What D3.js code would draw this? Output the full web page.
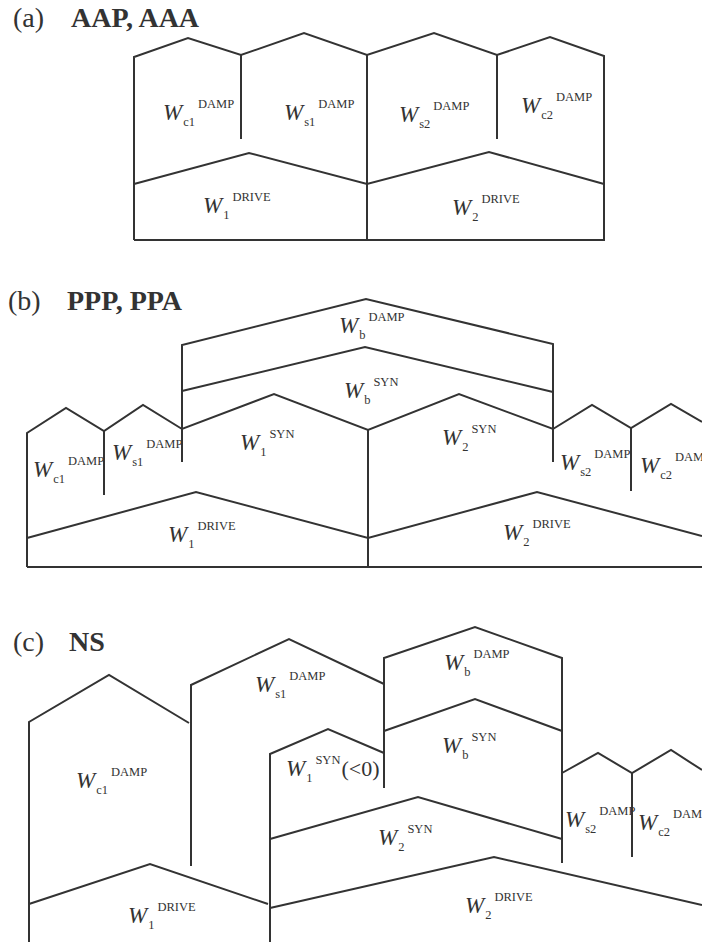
<!DOCTYPE html>
<html>
<head>
<meta charset="utf-8">
<script src="https://cdn.jsdelivr.net/npm/d3@7"></script>
<style>
  html, body { margin: 0; padding: 0; background: #fff; }
  svg { display: block; }
  .outline { fill: none; stroke: #333; stroke-width: 2; stroke-linejoin: miter; stroke-linecap: butt; }
  text { font-family: "Liberation Serif", "Times New Roman", serif; fill: #333; }
</style>
</head>
<body>
<svg id="fig" width="702" height="942"></svg>
<script>
// Panel headings
const panelTags  = ["(a)", "(b)", "(c)"];
const panelCases = ["AAP, AAA", "PPP, PPA", "NS"];

// Energy-flow outlines per case: each polyline is a list of [position, level]
const outlineAAP = [
  [[134, 0], [134, 183], [188, 202], [241, 185], [304, 207], [367, 185], [434, 207], [497, 185], [550, 203], [604, 184], [604, 0], [134, 0]],
  [[241, 185], [241, 101]],
  [[497, 185], [497, 101]],
  [[367, 185], [367, 0]],
  [[134, 56], [249, 87], [367, 56], [489, 88], [604, 56]]
];

const outlinePPP = [
  [[27, 0], [27, 134], [66, 159], [104, 136], [143, 162], [182, 138], [274, 173], [368, 137], [459, 173], [553, 138], [592, 162], [631, 139], [671, 163], [702, 145]],
  [[104, 136], [104, 72]],
  [[182, 105], [182, 222], [366, 268], [553, 223], [553, 105]],
  [[182, 176], [365, 220], [553, 175]],
  [[368, 137], [368, 0]],
  [[631, 139], [631, 76]],
  [[27, 29], [196, 75], [368, 29], [537, 75], [702, 31]],
  [[27, 0], [702, 0]]
];

const outlineNS = [
  [[29, 0], [29, 220], [109, 267], [189, 219]],
  [[191, 76], [191, 257], [289, 303], [384, 258]],
  [[384, 154], [384, 284], [475, 315], [562, 284], [562, 79]],
  [[384, 211], [475, 243], [562, 211]],
  [[270, 0], [270, 188], [328, 213], [384, 189]],
  [[270, 103], [418, 145], [562, 103]],
  [[29, 38], [150, 78], [268, 38]],
  [[270, 34], [494, 85], [702, 37]],
  [[562, 169], [598, 189], [632, 169], [671, 192], [702, 172]],
  [[632, 169], [632, 85]]
];

// Energy terms: subscript, superscript, anchor [position, level], optional note
const termsAAP = [
  { sub: "c1", sup: "DAMP",  at: [163, 120] },
  { sub: "s1", sup: "DAMP",  at: [284, 120] },
  { sub: "s2", sup: "DAMP",  at: [399, 118] },
  { sub: "c2", sup: "DAMP",  at: [521, 127] },
  { sub: "1",  sup: "DRIVE", at: [203, 27] },
  { sub: "2",  sup: "DRIVE", at: [452, 25] }
];

const termsPPP = [
  { sub: "c1", sup: "DAMP",  at: [33, 90] },
  { sub: "s1", sup: "DAMP",  at: [112, 107] },
  { sub: "1",  sup: "SYN",   at: [240, 117] },
  { sub: "1",  sup: "DRIVE", at: [168, 25] },
  { sub: "b",  sup: "DAMP",  at: [339, 234] },
  { sub: "b",  sup: "SYN",   at: [344, 169] },
  { sub: "2",  sup: "SYN",   at: [442, 122] },
  { sub: "s2", sup: "DAMP",  at: [560, 97] },
  { sub: "c2", sup: "DAMP",  at: [640, 94] },
  { sub: "2",  sup: "DRIVE", at: [503, 27] }
];

const termsNS = [
  { sub: "c1", sup: "DAMP",  at: [76, 154] },
  { sub: "s1", sup: "DAMP",  at: [255, 250] },
  { sub: "1",  sup: "SYN",   at: [286, 166], note: "(<0)" },
  { sub: "b",  sup: "DAMP",  at: [444, 272] },
  { sub: "b",  sup: "SYN",   at: [442, 189] },
  { sub: "2",  sup: "SYN",   at: [378, 97] },
  { sub: "s2", sup: "DAMP",  at: [565, 115] },
  { sub: "c2", sup: "DAMP",  at: [638, 112] },
  { sub: "1",  sup: "DRIVE", at: [128, 19] },
  { sub: "2",  sup: "DRIVE", at: [465, 29] }
];

const outlines = [outlineAAP, outlinePPP, outlineNS];
const terms = [termsAAP, termsPPP, termsNS];

// Page layout of the three panels
const W = 702, H = 942;
const layout = [
  { ground: 240, titleY: 27,  tagX: 13, caseX: 71 },
  { ground: 567, titleY: 310, tagX: 8,  caseX: 67 },
  { ground: 942, titleY: 651, tagX: 13, caseX: 69 }
];

const svg = d3.select("#fig");
const x = d3.scaleLinear().domain([0, W]).range([0, W]);

layout.forEach((p, i) => {
  const y = d3.scaleLinear().domain([0, 1]).range([p.ground, p.ground - 1]);
  const line = d3.line().x(d => x(d[0])).y(d => y(d[1]));
  const g = svg.append("g").attr("class", "panel-" + i);

  g.append("text")
    .attr("x", p.tagX).attr("y", p.titleY)
    .attr("font-size", 28)
    .text(panelTags[i]);
  g.append("text")
    .attr("x", p.caseX).attr("y", p.titleY)
    .attr("font-size", 28).attr("font-weight", "bold")
    .text(panelCases[i]);

  g.selectAll("path.outline")
    .data(outlines[i])
    .join("path")
    .attr("class", "outline")
    .attr("d", line);

  g.selectAll("text.term")
    .data(terms[i])
    .join("text")
    .attr("class", "term")
    .attr("x", d => x(d.at[0]))
    .attr("y", d => y(d.at[1]))
    .each(function (d) {
      const t = d3.select(this);
      t.append("tspan").attr("font-style", "italic").attr("font-size", 23).text("W");
      t.append("tspan").attr("font-size", 12.5).attr("dx", 1).attr("dy", 6).text(d.sub);
      t.append("tspan").attr("font-size", 12.5).attr("dx", 3).attr("dy", -18).text(d.sup);
      if (d.note) {
        t.append("tspan").attr("font-size", 22).attr("dx", 1).attr("dy", 12).text(d.note);
      }
    });
});
</script>
</body>
</html>
